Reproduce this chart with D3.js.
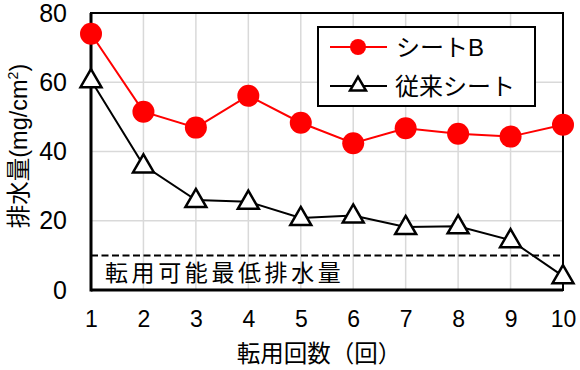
<!DOCTYPE html>
<html><head><meta charset="utf-8">
<script src="https://cdn.jsdelivr.net/npm/d3@7"></script>
<style>
html,body{margin:0;padding:0;background:#fff;}
text{font-family:"Liberation Sans",Arial,"Noto Sans CJK JP",sans-serif;}
</style></head>
<body><svg id="c" width="580" height="370"></svg>
<script>
const categories = [1,2,3,4,5,6,7,8,9,10];
const sheetB = [74, 51.5, 46.9, 56.1, 48.3, 42.4, 46.7, 45.1, 44.3, 47.7];
const conventional = [60.6, 36, 26, 25.5, 20.8, 21.5, 18.2, 18.4, 14.4, 4];
const yTicks = [0,20,40,60,80];
const threshold = 10;
const seriesNames = ["シートB","従来シート"];
const thresholdLabel = "転用可能最低排水量";
const xTitle = "転用回数（回）";

const svg = d3.select("#c");
const L=91, R=563, T=13, B=290;
const x = d3.scaleLinear().domain([1,10]).range([L,R]);
const y = d3.scaleLinear().domain([0,80]).range([B,T]);

// grid
svg.append("g").selectAll("line").data(categories).join("line")
  .attr("x1",d=>x(d)).attr("x2",d=>x(d)).attr("y1",T).attr("y2",B)
  .attr("stroke","#d9d9d9").attr("stroke-width",1.5);
svg.append("g").selectAll("line").data(yTicks.filter(v=>v>0&&v<80)).join("line")
  .attr("x1",L).attr("x2",R).attr("y1",d=>y(d)).attr("y2",d=>y(d))
  .attr("stroke","#d9d9d9").attr("stroke-width",1.5);

// frame
svg.append("rect").attr("x",L).attr("y",T).attr("width",R-L).attr("height",B-T)
  .attr("fill","none").attr("stroke","#000").attr("stroke-width",2);
svg.append("line").attr("x1",L).attr("x2",L).attr("y1",T).attr("y2",B+1.5).attr("stroke","#000").attr("stroke-width",3);
svg.append("line").attr("x1",L).attr("x2",R).attr("y1",B).attr("y2",B).attr("stroke","#000").attr("stroke-width",3);

// axes
const yAxis = d3.axisLeft(y).tickValues(yTicks).tickSize(0).tickPadding(24);
const gy = svg.append("g").attr("transform",`translate(${L},0)`).call(yAxis);
gy.select(".domain").remove();
gy.selectAll("text").attr("font-size",25).attr("fill","#000")
  .style("font-family",'"Liberation Sans",Arial,sans-serif');
const xAxis = d3.axisBottom(x).tickValues(categories).tickFormat(d3.format("d")).tickSize(0).tickPadding(21);
const gx = svg.append("g").attr("transform",`translate(0,${B})`).call(xAxis);
gx.select(".domain").remove();
gx.selectAll("text").attr("font-size",23).attr("fill","#000")
  .style("font-family",'"Liberation Sans",Arial,sans-serif');

// threshold
svg.append("line").attr("x1",L).attr("x2",R).attr("y1",y(threshold)).attr("y2",y(threshold))
  .attr("stroke","#000").attr("stroke-width",2).attr("stroke-dasharray","7,3.5");
svg.append("text").attr("x",105).attr("y",281).attr("font-size",23).attr("letter-spacing",3.6)
  .text(thresholdLabel);

// lines
const line = d3.line().x((d,i)=>x(categories[i])).y(d=>y(d));
svg.append("path").datum(conventional).attr("d",line).attr("fill","none").attr("stroke","#000").attr("stroke-width",2);
svg.append("path").datum(sheetB).attr("d",line).attr("fill","none").attr("stroke","#ff0000").attr("stroke-width",2);

const tri = d3.symbol().type(d3.symbolTriangle).size(190);
svg.append("g").selectAll("path").data(conventional).join("path")
  .attr("d",tri).attr("transform",(d,i)=>`translate(${x(categories[i])},${y(d)+1})`)
  .attr("fill","#fff").attr("stroke","#000").attr("stroke-width",2.5);
svg.append("g").selectAll("circle").data(sheetB).join("circle")
  .attr("cx",(d,i)=>x(categories[i])).attr("cy",d=>y(d)).attr("r",11).attr("fill","#ff0000");

// legend
const lg = svg.append("g");
lg.append("rect").attr("x",318).attr("y",27).attr("width",217).attr("height",79)
  .attr("fill","#fff").attr("stroke","#000").attr("stroke-width",2);
lg.append("line").attr("x1",330).attr("x2",387).attr("y1",47).attr("y2",47).attr("stroke","#ff0000").attr("stroke-width",2);
lg.append("circle").attr("cx",358).attr("cy",47).attr("r",8).attr("fill","#ff0000");
lg.append("line").attr("x1",330).attr("x2",387).attr("y1",86).attr("y2",86).attr("stroke","#000").attr("stroke-width",2);
lg.append("path").attr("d",d3.symbol().type(d3.symbolTriangle).size(110))
  .attr("transform","translate(358,86)").attr("fill","#fff").attr("stroke","#000").attr("stroke-width",2.5);
lg.append("text").attr("x",396).attr("y",56).attr("font-size",24).text(seriesNames[0]);
lg.append("text").attr("x",395).attr("y",95).attr("font-size",24).text(seriesNames[1]);

// titles
svg.append("text").attr("x",319).attr("y",362).attr("text-anchor","middle").attr("font-size",23.5).text(xTitle);
const yt = svg.append("text").attr("transform","translate(27,146) rotate(-90)").attr("text-anchor","middle").attr("font-size",23.5);
yt.append("tspan").text("排水量(mg/cm");
yt.append("tspan").attr("font-size",14).attr("dy",-9).text("2");
yt.append("tspan").attr("dy",9).text(")");
</script></body></html>
